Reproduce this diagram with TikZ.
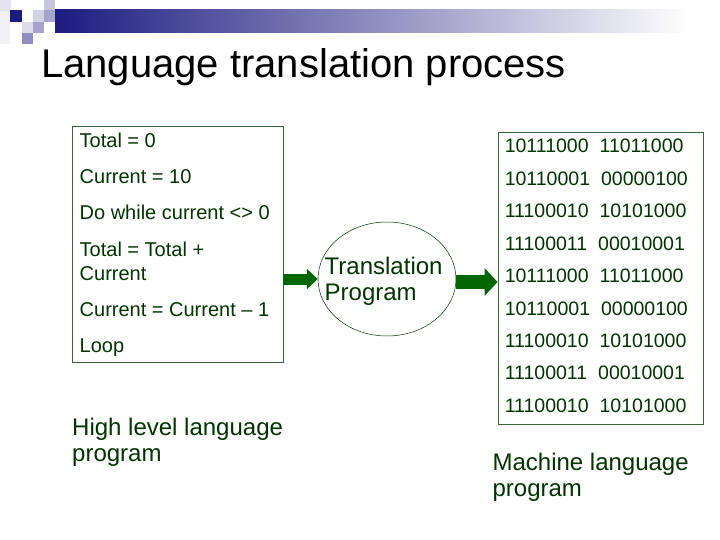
\documentclass[tikz,border=0pt]{standalone}
\usepackage{fontspec}
\setmainfont{Liberation Sans}
\usetikzlibrary{arrows.meta,shapes.geometric}
\definecolor{txtgreen}{RGB}{0,51,0}
\definecolor{boxgreen}{RGB}{51,102,51}
\definecolor{arrgreen}{RGB}{0,102,0}
\definecolor{navy}{RGB}{28,28,128}

\begin{document}
\begin{tikzpicture}[x=1pt, y=-1pt, every node/.style={inner sep=0pt, text=txtgreen},
	code/.style={font=\fontsize{20}{24}\selectfont, anchor=base west},
	lbl/.style={font=\fontsize{24}{26}\selectfont, align=left, anchor=base west},
	progbox/.style={draw=boxgreen, line width=0.8pt, rectangle},
	fatarrow/.style={arrgreen, line width=#1}]
	\useasboundingbox (0,0) rectangle (720,540);
	\fill[navy!12] (0,0) rectangle (11,11);
	\fill[navy!6] (0,11) rectangle (10,44);
	\fill[navy] (10,10) rectangle (22,22);
	\fill[navy!20] (33,10) rectangle (44,22);
	\fill[navy!25] (44,0) rectangle (55,10);
	\fill[navy!40] (44,10) rectangle (55,22);
	\fill[navy!15] (22,22) rectangle (33,33);
	\fill[navy!40] (33,22) rectangle (44,33);
	\fill[navy!50] (22,33) rectangle (33,44);
	\shade[left color=navy, right color=white] (55,10) rectangle (690,33);
	\node[font=\fontsize{40}{48}\selectfont, text=black, anchor=base west] (title) at (41,78) {Language translation process};

	\node[progbox, minimum width=211pt, minimum height=236pt] (hll) at (177.5,244) {};
	\node[progbox, minimum width=205pt, minimum height=292pt] (mlp) at (600.5,278) {};
	\node[ellipse, draw=txtgreen, line width=0.5pt, minimum width=138pt, minimum height=114pt] (tp) at (387,279) {};

	\foreach \y/\t in {148/Total = 0, 184/Current = 10, 220/Do while current <> 0, 256/Total = Total +, 280/Current, 316/Current = Current – 1, 352/Loop}
		\node[code] at (79.5,\y) {\t};
	\foreach \a/\b [count=\i] in {10111000/11011000, 10110001/00000100, 11100010/10101000, 11100011/00010001, 10111000/11011000, 10110001/00000100, 11100010/10101000, 11100011/00010001, 11100010/10101000}
		\node[code, font=\fontsize{19.5}{24}\selectfont] (bits\i) at (504.6,{153+32.4*(\i-1)}) {\a\hspace*{11pt}\b};

	\node[lbl] (tptext) at (324.5,300.5) {Translation\\Program};
	\node[lbl] (hlltext) at (72,461) {High level language\\program};
	\node[lbl] (mlptext) at (492.4,496) {Machine language\\program};

	\draw[fatarrow=11pt, -{Triangle[length=11pt, width=20pt]}] (hll.east |- tp.west) -- (tp.west);
	\draw[fatarrow=14pt, -{Triangle[length=13pt, width=27pt]}] ([yshift=-3pt]tp.east) -- ([yshift=-3pt]tp.east -| mlp.west);
\end{tikzpicture}
\end{document}
